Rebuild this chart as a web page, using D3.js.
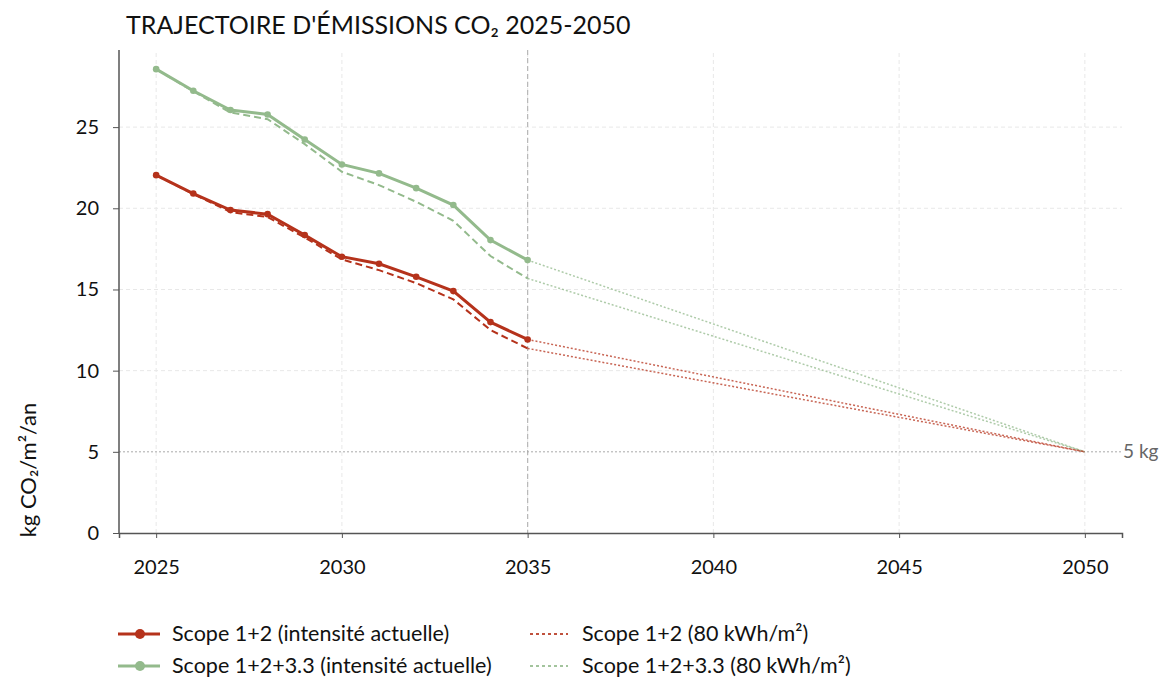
<!DOCTYPE html>
<html>
<head>
<meta charset="utf-8">
<script src="https://cdn.jsdelivr.net/npm/d3@7"></script>
<style>
  body { margin: 0; background: #fff; }
  svg { font-family: "Lato", "Open Sans", sans-serif; }
</style>
</head>
<body>
<svg id="chart" width="1160" height="681"></svg>
<script>
// years with measured values
const years = [2025, 2026, 2027, 2028, 2029, 2030, 2031, 2032, 2033, 2034, 2035];
const scope12Actual = [22.04, 20.91, 19.89, 19.64, 18.35, 17.02, 16.58, 15.78, 14.90, 12.99, 11.92];
const scope12Target = [22.04, 20.88, 19.77, 19.46, 18.20, 16.85, 16.19, 15.39, 14.39, 12.50, 11.37];
const scope123Actual = [28.57, 27.24, 26.05, 25.78, 24.24, 22.70, 22.15, 21.24, 20.20, 18.04, 16.81];
const scope123Target = [28.57, 27.20, 25.90, 25.49, 23.95, 22.25, 21.43, 20.40, 19.23, 17.06, 15.68];
const goalYear = 2050;
const goalValue = 5;
const xTicks = [2025, 2030, 2035, 2040, 2045, 2050];
const yTicks = [0, 5, 10, 15, 20, 25];
const legendLabels = [
  "Scope 1+2 (intensité actuelle)",
  "Scope 1+2 (80 kWh/m²)",
  "Scope 1+2+3.3 (intensité actuelle)",
  "Scope 1+2+3.3 (80 kWh/m²)"
];

const svg = d3.select("#chart");
const red = "#b5321b";
const green = "#93ba8c";

const x = d3.scaleLinear().domain([2024, 2051]).range([119, 1122]);
const y = d3.scaleLinear().domain([0, 29.75]).range([533, 50]);

// grid
svg.append("g")
  .selectAll("line")
  .data(xTicks)
  .enter()
  .append("line")
  .attr("x1", d => x(d)).attr("x2", d => x(d))
  .attr("y1", y(0)).attr("y2", y(29.75))
  .attr("stroke", "#e8e8e8")
  .attr("stroke-dasharray", "4,3");

svg.append("g")
  .selectAll("line")
  .data(yTicks.filter(d => d !== 0 && d !== goalValue))
  .enter()
  .append("line")
  .attr("x1", x(2024)).attr("x2", x(2051))
  .attr("y1", d => y(d)).attr("y2", d => y(d))
  .attr("stroke", "#e8e8e8")
  .attr("stroke-dasharray", "4,3");

// 2035 marker
svg.append("line")
  .attr("x1", x(2035)).attr("x2", x(2035))
  .attr("y1", y(29.75)).attr("y2", y(0))
  .attr("stroke", "#b8b8b8")
  .attr("stroke-width", 1.2)
  .attr("stroke-dasharray", "5,3");

// target line
svg.append("line")
  .attr("x1", x(2024)).attr("x2", x(2051))
  .attr("y1", y(goalValue)).attr("y2", y(goalValue))
  .attr("stroke", "#aaa")
  .attr("stroke-dasharray", "2,2");

svg.append("text")
  .attr("x", x(2051) + 1)
  .attr("y", y(goalValue) + 6)
  .attr("font-size", "19px")
  .attr("fill", "#666")
  .text("5 kg");

// axes
const xAxis = svg.append("g")
  .attr("transform", `translate(0,${y(0)})`)
  .call(d3.axisBottom(x).tickValues(xTicks).tickFormat(d3.format("d")).tickSize(5).tickPadding(22));
xAxis.select(".domain").attr("stroke", "#555").attr("stroke-width", 1.5);
xAxis.selectAll(".tick line").attr("stroke", "#555");
xAxis.selectAll("text").attr("font-size", "20px").attr("fill", "#111").attr("font-family", "Lato");

const yAxis = svg.append("g")
  .attr("transform", `translate(${x(2024)},0)`)
  .call(d3.axisLeft(y).tickValues(yTicks).tickSize(6).tickPadding(14));
yAxis.select(".domain").attr("stroke", "#555").attr("stroke-width", 1.5).attr("d", `M-0,${y(29.75)}V${y(0)}`);
yAxis.selectAll(".tick line").attr("stroke", "#555");
yAxis.selectAll("text").attr("font-size", "20px").attr("fill", "#111").attr("font-family", "Lato");

// series
const line = d3.line().x(d => x(d[0])).y(d => y(d[1]));

const series = [
  { values: scope123Target, color: green, width: 2, dash: "7,4" },
  { values: scope12Target, color: red, width: 2, dash: "7,4" },
  { values: scope123Actual, color: green, width: 3, dash: null, dots: true },
  { values: scope12Actual, color: red, width: 3, dash: null, dots: true }
];

series.forEach(s => {
  const pts = years.map((yr, i) => [yr, s.values[i]]);
  const last = pts[pts.length - 1];

  // projection to 2050
  svg.append("path")
    .attr("d", line([last, [goalYear, goalValue]]))
    .attr("fill", "none")
    .attr("stroke", s.color)
    .attr("stroke-width", 1.5)
    .attr("stroke-opacity", 0.75)
    .attr("stroke-dasharray", "2,2");

  svg.append("path")
    .attr("d", line(pts))
    .attr("fill", "none")
    .attr("stroke", s.color)
    .attr("stroke-width", s.width)
    .attr("stroke-dasharray", s.dash);

  if (s.dots) {
    svg.append("g")
      .selectAll("circle")
      .data(pts)
      .enter()
      .append("circle")
      .attr("cx", d => x(d[0]))
      .attr("cy", d => y(d[1]))
      .attr("r", 3.3)
      .attr("fill", s.color);
  }
});

// title
svg.append("text")
  .attr("x", 126)
  .attr("y", 34)
  .attr("font-size", "25px")
  .attr("fill", "#111")
  .text("TRAJECTOIRE D'ÉMISSIONS CO₂ 2025-2050");

// y label
svg.append("text")
  .attr("transform", `translate(36,470) rotate(-90)`)
  .attr("text-anchor", "middle")
  .attr("font-size", "22px")
  .attr("fill", "#111")
  .text("kg CO₂/m²/an");

// legend
const legendData = [
  { label: legendLabels[0], color: red, type: "solid", col: 0, row: 0 },
  { label: legendLabels[1], color: red, type: "dot", col: 1, row: 0 },
  { label: legendLabels[2], color: green, type: "solid", col: 0, row: 1 },
  { label: legendLabels[3], color: green, type: "dot", col: 1, row: 1 }
];

const item = svg.append("g")
  .selectAll("g")
  .data(legendData)
  .enter()
  .append("g")
  .attr("transform", d => `translate(${d.col ? 528 : 118}, ${634 + d.row * 32})`);

item.append("line")
  .attr("x1", d => d.type === "solid" ? 0 : 2)
  .attr("x2", d => d.type === "solid" ? 42 : 40)
  .attr("stroke", d => d.color)
  .attr("stroke-width", d => d.type === "solid" ? 3 : 2)
  .attr("stroke-opacity", d => d.type === "solid" ? 1 : 0.85)
  .attr("stroke-dasharray", d => d.type === "solid" ? null : "3,3");

item.filter(d => d.type === "solid")
  .append("circle")
  .attr("cx", 22)
  .attr("r", 5)
  .attr("fill", d => d.color);

item.append("text")
  .attr("x", 54)
  .attr("y", 7)
  .attr("font-size", "21.5px")
  .attr("fill", "#111")
  .text(d => d.label);
</script>
</body>
</html>
